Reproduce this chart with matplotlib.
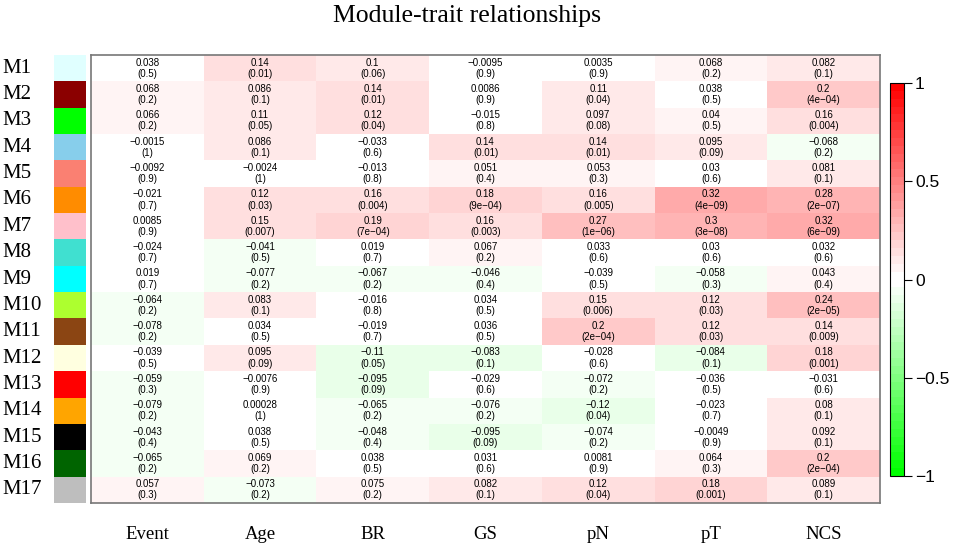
import numpy as np
import matplotlib
matplotlib.use("Agg")
import matplotlib.pyplot as plt
from matplotlib.colors import ListedColormap

modules = ["M%d" % i for i in range(1, 18)]
traits = ["Event", "Age", "BR", "GS", "pN", "pT", "NCS"]
module_colors = ["#E0FFFF", "#8B0000", "#00FF00", "#87CEEB", "#FA8072", "#FF8C00",
                 "#FFC0CB", "#40E0D0", "#00FFFF", "#ADFF2F", "#8B4513", "#FFFFE0",
                 "#FF0000", "#FFA500", "#000000", "#006400", "#BEBEBE"]

corr = [
    [0.038, 0.14, 0.1, -0.0095, 0.0035, 0.068, 0.082],
    [0.068, 0.086, 0.14, 0.0086, 0.11, 0.038, 0.2],
    [0.066, 0.11, 0.12, -0.015, 0.097, 0.04, 0.16],
    [-0.0015, 0.086, -0.033, 0.14, 0.14, 0.095, -0.068],
    [-0.0092, -0.0024, -0.013, 0.051, 0.053, 0.03, 0.081],
    [-0.021, 0.12, 0.16, 0.18, 0.16, 0.32, 0.28],
    [0.0085, 0.15, 0.19, 0.16, 0.27, 0.3, 0.32],
    [-0.024, -0.041, 0.019, 0.067, 0.033, 0.03, 0.032],
    [0.019, -0.077, -0.067, -0.046, -0.039, -0.058, 0.043],
    [-0.064, 0.083, -0.016, 0.034, 0.15, 0.12, 0.24],
    [-0.078, 0.034, -0.019, 0.036, 0.2, 0.12, 0.14],
    [-0.039, 0.095, -0.11, -0.083, -0.028, -0.084, 0.18],
    [-0.059, -0.0076, -0.095, -0.029, -0.072, -0.036, -0.031],
    [-0.079, 0.00028, -0.065, -0.076, -0.12, -0.023, 0.08],
    [-0.043, 0.038, -0.048, -0.095, -0.074, -0.0049, 0.092],
    [-0.065, 0.069, 0.038, 0.031, 0.0081, 0.064, 0.2],
    [0.057, -0.073, 0.075, 0.082, 0.12, 0.18, 0.089],
]

pvals = [
    [0.5, 0.01, 0.06, 0.9, 0.9, 0.2, 0.1],
    [0.2, 0.1, 0.01, 0.9, 0.04, 0.5, 4e-04],
    [0.2, 0.05, 0.04, 0.8, 0.08, 0.5, 0.004],
    [1, 0.1, 0.6, 0.01, 0.01, 0.09, 0.2],
    [0.9, 1, 0.8, 0.4, 0.3, 0.6, 0.1],
    [0.7, 0.03, 0.004, 9e-04, 0.005, 4e-09, 2e-07],
    [0.9, 0.007, 7e-04, 0.003, 1e-06, 3e-08, 6e-09],
    [0.7, 0.5, 0.7, 0.2, 0.6, 0.6, 0.6],
    [0.7, 0.2, 0.2, 0.4, 0.5, 0.3, 0.4],
    [0.2, 0.1, 0.8, 0.5, 0.006, 0.03, 2e-05],
    [0.2, 0.5, 0.7, 0.5, 2e-04, 0.03, 0.009],
    [0.5, 0.09, 0.05, 0.1, 0.6, 0.1, 0.001],
    [0.3, 0.9, 0.09, 0.6, 0.2, 0.5, 0.6],
    [0.2, 1, 0.2, 0.2, 0.04, 0.7, 0.1],
    [0.4, 0.5, 0.4, 0.09, 0.2, 0.9, 0.1],
    [0.2, 0.2, 0.5, 0.6, 0.9, 0.3, 2e-04],
    [0.3, 0.2, 0.2, 0.1, 0.04, 0.001, 0.1],
]


def green_white_red(n):
    half = n // 2
    cols = []
    for i in range(half):
        g = (half - 1 - i) / (half - 1)
        cols.append((1 - g, 1, 1 - g))
    for i in range(half):
        r = i / (half - 1)
        cols.append((1, 1 - r, 1 - r))
    return ListedColormap(cols)


def fmt_p(p):
    if p < 0.001:
        s = "%.0e" % p
    else:
        s = "%g" % p
    return s.replace("-", "\u2212")


def main():
    cmap = green_white_red(50)
    data = np.array(corr)
    W, H = 957, 546
    fig = plt.figure(figsize=(W / 100, H / 100), dpi=100)

    top, bottom = 55, 503
    ax = fig.add_axes([91 / W, (H - bottom) / H, (880 - 91) / W, (bottom - top) / H])
    im = ax.imshow(data, cmap=cmap, vmin=-1, vmax=1, aspect="auto", interpolation="nearest")
    for i in range(len(modules)):
        for j in range(len(traits)):
            txt = ("%g" % corr[i][j]).replace("-", "\u2212") + "\n(" + fmt_p(pvals[i][j]) + ")"
            ax.text(j, i, txt, ha="center", va="center", fontsize=7,
                    family="Liberation Sans", linespacing=1.15)
    ax.set_xticks([])
    ax.set_yticks([])
    for s in ax.spines.values():
        s.set_color("#777777")
        s.set_linewidth(1.2)
    for j, t in enumerate(traits):
        ax.text(j, -0.07, t, transform=ax.get_xaxis_transform(), ha="center", va="center",
                fontsize=13.5, family="Liberation Serif")

    # module colour strip
    axm = fig.add_axes([54 / W, (H - bottom) / H, 32 / W, (bottom - top) / H])
    mod_idx = np.arange(len(modules)).reshape(-1, 1)
    axm.imshow(mod_idx, cmap=ListedColormap(module_colors), aspect="auto",
               interpolation="nearest", vmin=-0.5, vmax=len(modules) - 0.5)
    axm.set_xticks([])
    axm.set_yticks([])
    for s in axm.spines.values():
        s.set_visible(False)
    for i, m in enumerate(modules):
        axm.text(-1.6, i, m, transform=axm.get_yaxis_transform(), ha="left", va="center",
                 fontsize=15, family="Liberation Serif")

    # colour bar
    cax = fig.add_axes([890 / W, (H - 476) / H, 14 / W, (476 - 83) / H])
    cb = fig.colorbar(im, cax=cax, ticks=[-1, -0.5, 0, 0.5, 1])
    cb.ax.set_yticklabels(["\u22121", "\u22120.5", "0", "0.5", "1"])
    cb.outline.set_linewidth(0.8)
    cb.ax.tick_params(length=6, width=0.8, labelsize=12.5, pad=2)
    for lab in cb.ax.get_yticklabels():
        lab.set_family("Liberation Sans")

    fig.text(467 / W, 1 - 16 / H, "Module-trait relationships", ha="center", va="center",
             fontsize=18.5, family="Liberation Serif")

    fig.savefig("out.png", dpi=100)


if __name__ == "__main__":
    main()
